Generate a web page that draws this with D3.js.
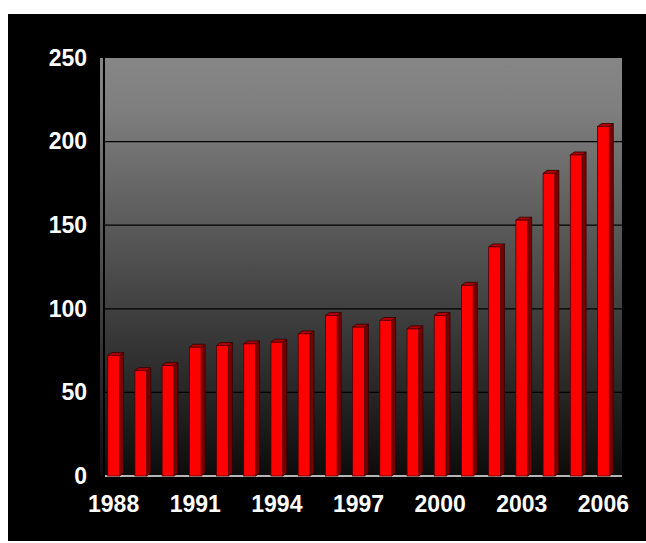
<!DOCTYPE html>
<html>
<head>
<meta charset="utf-8">
<script src="https://cdn.jsdelivr.net/npm/d3@7"></script>
<style>
  body { margin: 0; background: #fff; }
  svg { display: block; }
  .axis text { fill: #fff; font-family: "Liberation Sans", Arial, sans-serif; font-size: 23px; font-weight: bold; }
</style>
</head>
<body>
<svg id="chart" width="646" height="543"></svg>
<script>
(function() {
  'use strict';

// data
var years = d3.range(1988, 2007);
var values = [72, 63, 66, 77, 78, 79, 80, 85, 96, 89, 93, 88, 96, 114, 137, 153, 181, 192, 209];
var yTicks = [0, 50, 100, 150, 200, 250];
var xTickYears = [1988, 1991, 1994, 1997, 2000, 2003, 2006];

var svg = d3.select("#chart");
var left = 105, right = 622, top = 58, bottom = 476;
var depth = 4, lift = 3;

var x = d3.scaleBand().domain(years).range([102, 619]).paddingInner(0.42).paddingOuter(0.21);
var y = d3.scaleLinear().domain([0, 250]).range([bottom, top]);

// black card
svg.append("rect").attr("x", 8).attr("y", 14).attr("width", 638).attr("height", 527).attr("fill", "#000");

// background gradient
var grad = svg.append("defs").append("linearGradient")
  .attr("id", "bg").attr("x1", 0).attr("y1", 0).attr("x2", 0).attr("y2", 1);
grad.append("stop").attr("offset", "0%").attr("stop-color", "#868686");
grad.append("stop").attr("offset", "12%").attr("stop-color", "#7f7f7f");
grad.append("stop").attr("offset", "100%").attr("stop-color", "#0c0c0c");

svg.append("rect").attr("x", 100).attr("y", top).attr("width", 3).attr("height", bottom - top).attr("fill", "url(#bg)");
svg.append("rect").attr("x", left).attr("y", top).attr("width", right - left).attr("height", bottom - top).attr("fill", "url(#bg)");

// gridlines
svg.append("g").selectAll("line")
  .data(yTicks.slice(1, -1))
  .enter().append("line")
  .attr("x1", left).attr("x2", right)
  .attr("y1", function(d) { return y(d); }).attr("y2", function(d) { return y(d); })
  .attr("stroke", "#000").attr("stroke-width", 1.2);

// floor
svg.append("line").attr("x1", left).attr("x2", right).attr("y1", bottom).attr("y2", bottom)
  .attr("stroke", "#b5b5b5").attr("stroke-width", 2);

// bars
var fw = x.bandwidth() - depth;
var bars = svg.append("g").selectAll("g")
  .data(values)
  .enter().append("g");

bars.append("path")  // side
  .attr("d", function(d, i) {
    var x0 = x(years[i]) + fw, y0 = y(d);
    return "M" + [x0, y0] + "L" + [x0 + depth, y0 - lift] + "L" + [x0 + depth, bottom - lift] + "L" + [x0, bottom] + "Z";
  })
  .attr("fill", "#7a0000").attr("stroke", "#300000").attr("stroke-width", 0.8);

bars.append("path")  // top
  .attr("d", function(d, i) {
    var x0 = x(years[i]), y0 = y(d);
    return "M" + [x0, y0] + "L" + [x0 + depth, y0 - lift] + "L" + [x0 + fw + depth, y0 - lift] + "L" + [x0 + fw, y0] + "Z";
  })
  .attr("fill", "#b00000").attr("stroke", "#300000").attr("stroke-width", 0.8);

bars.append("rect")  // front
  .attr("x", function(d, i) { return x(years[i]); })
  .attr("y", function(d) { return y(d); })
  .attr("width", fw)
  .attr("height", function(d) { return bottom - y(d); })
  .attr("fill", "#ff0000").attr("stroke", "#500000").attr("stroke-width", 0.8);

// axes
var yAxis = svg.append("g").attr("class", "axis").attr("transform", "translate(100,0)")
  .call(d3.axisLeft(y).tickValues(yTicks).tickSize(0).tickPadding(13));
yAxis.select(".domain").remove();

var xAxis = svg.append("g").attr("class", "axis").attr("transform", "translate(" + (fw / 2) + "," + bottom + ")")
  .call(d3.axisBottom(x).tickValues(xTickYears).tickSize(0).tickPadding(20));
xAxis.select(".domain").remove();
xAxis.selectAll(".tick").attr("transform", function(d) { return "translate(" + x(d) + ",0)"; });

})();
</script>
</body>
</html>
